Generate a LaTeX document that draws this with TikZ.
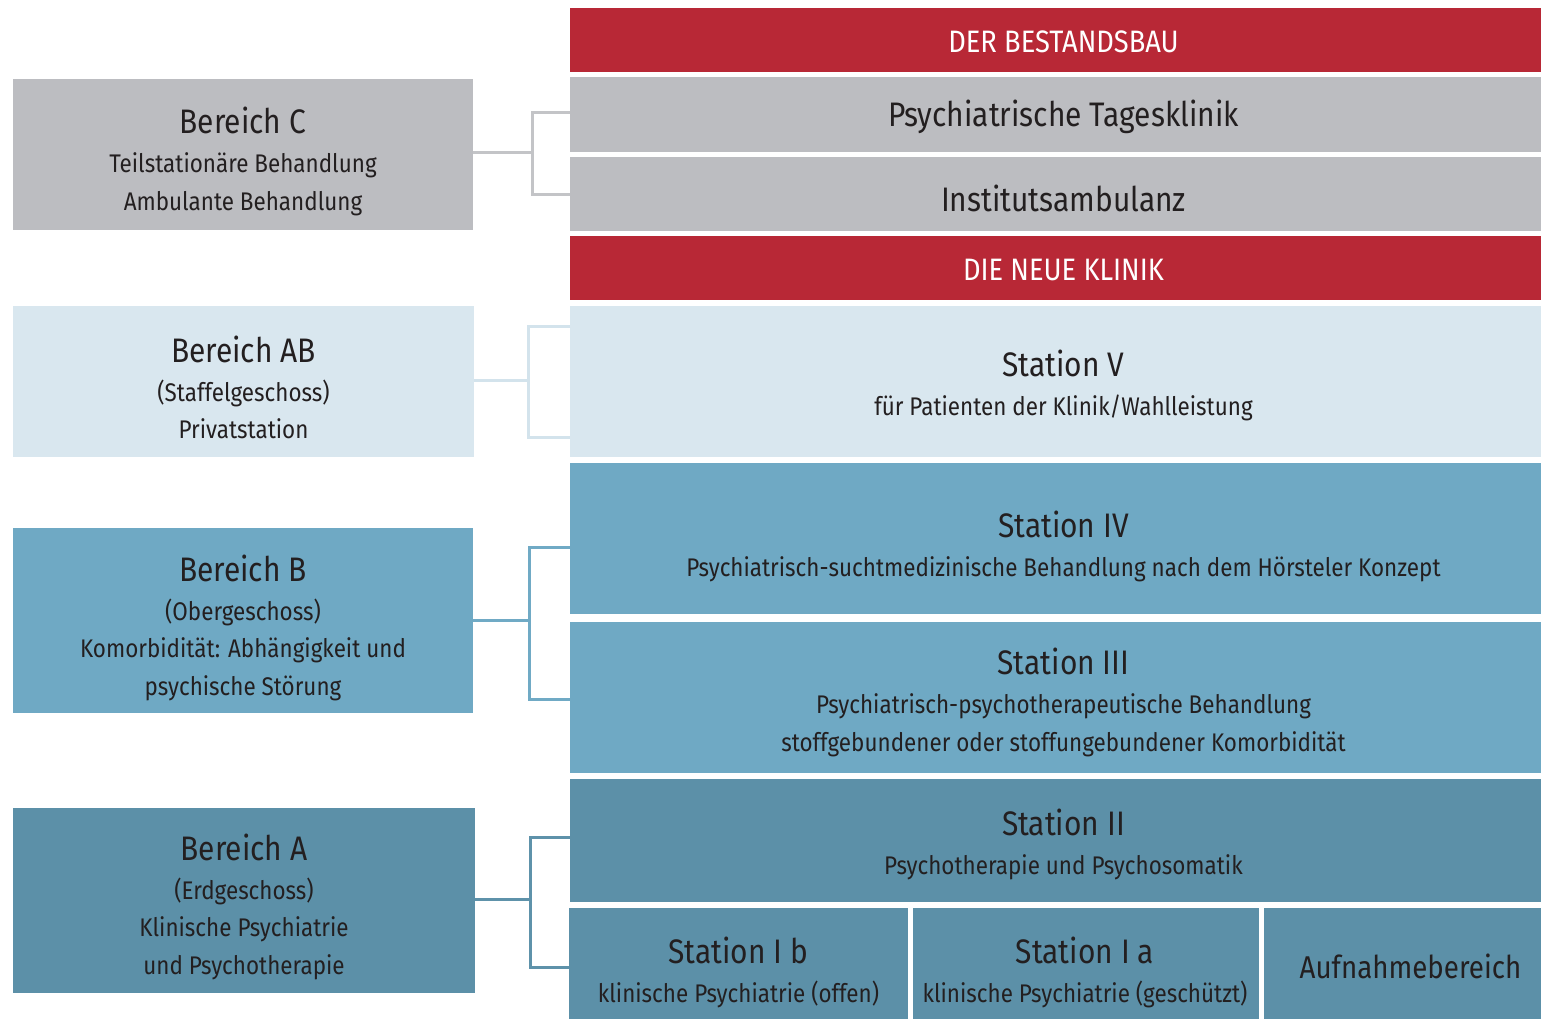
\documentclass[tikz,border=0pt]{standalone}
\usepackage{fontspec}
\setmainfont[FakeStretch=0.88]{Fira Sans}
\definecolor{cRed}{HTML}{B82836}
\definecolor{cGray}{HTML}{BCBDC1}
\definecolor{cLight}{HTML}{D9E7EF}
\definecolor{cMid}{HTML}{6FA9C4}
\definecolor{cDark}{HTML}{5C90A8}
\definecolor{lGray}{HTML}{C3C4C7}
\definecolor{lLight}{HTML}{D3E3EC}
\definecolor{lMid}{HTML}{70AAC5}
\definecolor{lDark}{HTML}{5E92AA}
\definecolor{cText}{HTML}{231F20}
\tikzset{
  box/.style={anchor=north west, inner sep=0pt, outer sep=0pt},
  txt/.style={inner sep=0pt, align=center, text=cText, font=\fontsize{25.5}{37.5}\selectfont},
  hdrtxt/.style={inner sep=0pt, text=white, font=\fontsize{31}{34}\selectfont},
  conn/.style={line width=3pt},
}
\newcommand{\T}[1]{{\fontsize{34}{40}\selectfont #1}\\[1.5pt]}
\newcommand{\TT}[1]{{\fontsize{34}{40}\selectfont #1}}
\begin{document}
\begin{tikzpicture}[x=1pt,y=-1pt]
\useasboundingbox (0,0) rectangle (1541,1019);
% right column boxes
\node[box, fill=cRed, minimum width=971, minimum height=64] (h1) at (570,8) {};
\node[box, fill=cGray, minimum width=971, minimum height=75] (tk) at (570,77) {};
\node[box, fill=cGray, minimum width=971, minimum height=74] (ia) at (570,157) {};
\node[box, fill=cRed, minimum width=971, minimum height=64] (h2) at (570,236) {};
\node[box, fill=cLight, minimum width=971, minimum height=151] (s5) at (570,306) {};
\node[box, fill=cMid, minimum width=971, minimum height=151] (s4) at (570,463) {};
\node[box, fill=cMid, minimum width=971, minimum height=151] (s3) at (570,622) {};
\node[box, fill=cDark, minimum width=971, minimum height=123] (s2) at (570,779) {};
\node[box, fill=cDark, minimum width=339, minimum height=111] (s1b) at (569,908) {};
\node[box, fill=cDark, minimum width=346, minimum height=111] (s1a) at (913,908) {};
\node[box, fill=cDark, minimum width=277, minimum height=111] (auf) at (1264,908) {};
% left column boxes
\node[box, fill=cGray, minimum width=460, minimum height=151] (bc) at (13,79) {};
\node[box, fill=cLight, minimum width=461, minimum height=151] (bab) at (13,306) {};
\node[box, fill=cMid, minimum width=460, minimum height=185] (bb) at (13,528) {};
\node[box, fill=cDark, minimum width=462, minimum height=185] (ba) at (13,808) {};
% texts
\node[hdrtxt] (th1) at ([shift={(8,2)}]h1.center) {DER BESTANDSBAU};
\node[hdrtxt] (th2) at ([shift={(8,2)}]h2.center) {DIE NEUE KLINIK};
\node[txt] (ttk) at ([shift={(8,2)}]tk.center) {\TT{Psychiatrische Tagesklinik}};
\node[txt] (tia) at ([shift={(8,4)}]ia.center) {\TT{Institutsambulanz}};
\node[txt] (ts5) at ([shift={(8,4)}]s5.center) {\T{Station V}für Patienten der Klinik/Wahlleistung};
\node[txt] (ts4) at ([shift={(8,8)}]s4.center) {\T{Station IV}Psychiatrisch-suchtmedizinische Behandlung nach dem Hörsteler Konzept};
\node[txt] (ts3) at ([shift={(8,5)}]s3.center) {\T{Station III}Psychiatrisch-psychotherapeutische Behandlung\\stoffgebundener oder stoffungebundener Komorbidität};
\node[txt] (ts2) at ([shift={(8,4)}]s2.center) {\T{Station II}Psychotherapie und Psychosomatik};
\node[txt] (ts1b) at ([shift={(0,9)}]s1b.center) {\T{Station I b}klinische Psychiatrie (offen)};
\node[txt] (ts1a) at ([shift={(-1,9)}]s1a.center) {\T{Station I a}klinische Psychiatrie (geschützt)};
\node[txt, font=\fontsize{31.5}{36}\selectfont] (tauf) at ([shift={(8,3)}]auf.center) {Aufnahmebereich};
\node[txt] (tbc) at ([shift={(0,7)}]bc.center) {\T{Bereich C}Teilstationäre Behandlung\\Ambulante Behandlung};
\node[txt] (tbab) at ([shift={(0,6)}]bab.center) {\T{Bereich AB}(Staffelgeschoss)\\Privatstation};
\node[txt] (tbb) at ([shift={(0,7)}]bb.center) {\T{Bereich B}(Obergeschoss)\\Komorbidität: Abhängigkeit und\\psychische Störung};
\node[txt] (tba) at ([shift={(0,6)}]ba.center) {\T{Bereich A}(Erdgeschoss)\\Klinische Psychiatrie\\und Psychotherapie};
% connectors
\coordinate (jc) at (532,153);
\draw[conn, lGray] (bc.east |- jc) -- (jc);
\draw[conn, lGray] ([yshift=1.5pt]tk.west) -| (jc) |- ([yshift=-1pt]ia.west);
\coordinate (jab) at (528,380);
\draw[conn, lLight] (bab.east |- jab) -- (jab);
\draw[conn, lLight] ([yshift=55.5pt]s5.west) -| (jab) |- ([yshift=-55.5pt]s5.west);
\coordinate (jb) at (529,620);
\draw[conn, lMid] (bb.east |- jb) -- (jb);
\draw[conn, lMid] ([yshift=-8.5pt]s4.west) -| (jb) |- ([yshift=-1.5pt]s3.west);
\coordinate (ja) at (530,899);
\draw[conn, lDark] (ba.east |- ja) -- (ja);
\draw[conn, lDark] ([yshift=3.5pt]s2.west) -| (ja) |- ([yshift=-3.5pt]s1b.west);
\end{tikzpicture}
\end{document}
